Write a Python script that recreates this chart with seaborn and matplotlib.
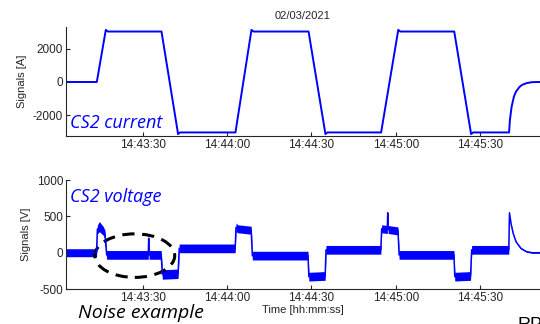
import seaborn as sns
import matplotlib.pyplot as plt
import pandas as pd
from matplotlib.patches import Ellipse

# seconds after 14:43:00
tick_secs = [30, 60, 90, 120, 150]
tick_labels = ['14:43:30', '14:44:00', '14:44:30', '14:45:00', '14:45:30']

# CS2 current [A]
cur_t = [2.7, 13.7, 16.9, 17.6, 36.7, 42.6, 43.3, 63.0, 68.7, 69.4, 89.0, 95.0, 95.7,
         114.8, 120.9, 121.6, 140.8, 146.8, 147.5, 160.3, 160.6, 161.2, 162.0, 162.7,
         164.0, 165.0, 166.5, 168.5, 171.3]
cur_a = [0, 0, 3150, 3050, 3050, -3150, -3050, -3050, 3150, 3050, 3050, -3150, -3050,
         -3050, 3150, 3050, 3050, -3150, -3050, -3050, -2300, -1500, -900, -600,
         -300, -170, -70, -10, 0]

# CS2 voltage [V] (mean level) and noise half width
volt_t = [2.7, 13.6, 13.9, 14.6, 16.0, 16.6, 17.2, 32.0, 32.15, 32.3, 36.6, 37.0, 42.6,
          43.0, 62.9, 63.2, 63.8, 68.6, 69.0, 88.8, 89.1, 94.9, 95.2, 114.7, 115.0,
          117.0, 117.15, 117.3, 120.8, 121.2, 140.7, 141.0, 146.6, 147.0, 160.2, 160.45,
          161.0, 161.8, 162.8, 164.5, 166.5, 168.5, 171.3]
volt_v = [0, 0, 320, 360, 300, 250, -30, -30, 200, -30, -30, -300, -290,
          60, 60, 350, 330, 310, -40, -40, -330, -320, 40, 40, 330,
          320, 550, 320, 300, -30, -30, -330, -320, 40, 40, 550,
          400, 260, 150, 60, 15, 0, 0]
volt_n = [55, 55, 60, 70, 60, 60, 60, 60, 0, 60, 60, 65, 65,
          60, 60, 60, 55, 55, 60, 60, 60, 60, 60, 60, 55,
          55, 0, 55, 55, 60, 60, 60, 60, 60, 60, 0,
          8, 8, 8, 8, 8, 8, 8]

cur = pd.DataFrame({'t': cur_t, 'I': cur_a})
volt = pd.DataFrame({'t': volt_t, 'V': volt_v, 'n': volt_n})

sns.set_style('ticks')
plt.rcParams['font.family'] = ['Liberation Sans', 'DejaVu Sans']
plt.rcParams['axes.unicode_minus'] = False
blue = '#0000ff'

fig = plt.figure(figsize=(5.4, 3.24), dpi=100)
ax1 = fig.add_axes([0.122, 0.580, 0.878, 0.337])
ax2 = fig.add_axes([0.122, 0.108, 0.878, 0.336])

sns.lineplot(data=cur, x='t', y='I', ax=ax1, color=blue, lw=1.4)
ax1.set_ylim(-3270, 3330)
ax1.set_yticks([-2000, 0, 2000])
ax1.set_ylabel('Signals [A]', fontsize=8)
ax1.set_title('02/03/2021', fontsize=8, pad=6)
ax1.text(0.008, 0.07, 'CS2 current', transform=ax1.transAxes, color=blue,
         fontsize=13, style='italic', family='Open Sans')

ax2.fill_between(volt['t'], volt['V'] - volt['n'], volt['V'] + volt['n'],
                 color=blue, lw=0)
sns.lineplot(data=volt, x='t', y='V', ax=ax2, color=blue, lw=1.1)
ax2.set_ylim(-500, 1000)
ax2.set_yticks([-500, 0, 500, 1000])
ax2.set_ylabel('Signals [V]', fontsize=8)
ax2.set_xlabel('Time [hh:mm:ss]', fontsize=8, labelpad=1)
ax2.text(0.008, 0.80, 'CS2 voltage', transform=ax2.transAxes, color=blue,
         fontsize=13, style='italic', family='Open Sans')
ax2.add_patch(Ellipse((27.2, -40), 28.4, 600, fill=False, ec='black', lw=2.2,
                      ls=(0, (4, 2.5)), clip_on=False))

for ax in (ax1, ax2):
    ax.set_xlim(2.7, 171.3)
    ax.set_xticks(tick_secs)
    ax.set_xticklabels(tick_labels)
    ax.tick_params(direction='in', length=3, labelsize=8.5, pad=2)
    sns.despine(ax=ax)
ax1.set_xlabel('')

fig.text(0.145, 0.018, 'Noise example', fontsize=14, style='italic',
         family='Open Sans', color='black')
fig.text(0.958, -0.02, 'RP', fontsize=13, color='black')

fig.savefig('out.png', dpi=100)
